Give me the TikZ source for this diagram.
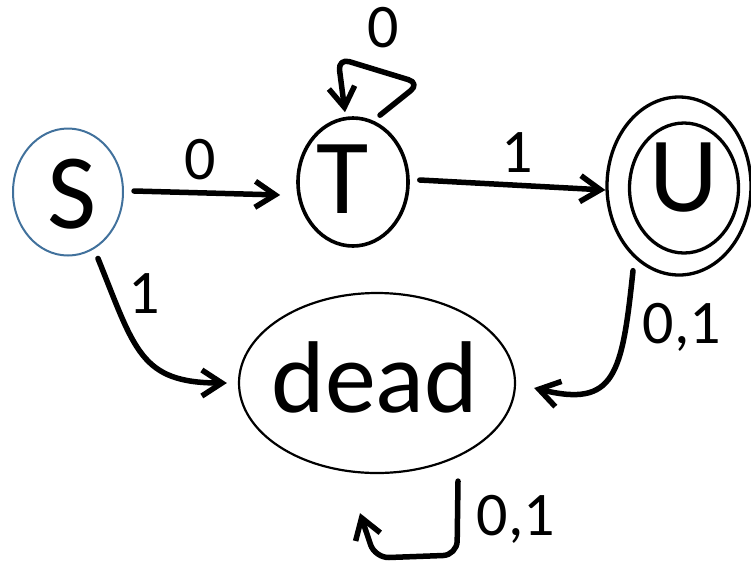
\documentclass[tikz,border=0pt]{standalone}
\usepackage{fontspec}
\setmainfont{Carlito}
\usetikzlibrary{shapes.geometric,arrows.meta}
\definecolor{sblue}{RGB}{65,113,156}
\begin{document}
\begin{tikzpicture}[x=1pt,y=-1pt,
  state/.style={ellipse,draw,inner sep=0pt},
  lbl/.style={font=\fontsize{62}{62}\selectfont,anchor=base,inner sep=0pt},
  big/.style={font=\fontsize{107}{107}\selectfont,anchor=base,inner sep=0pt},
  edge/.style={line width=5.5pt,line cap=round,line join=round,-{Straight Barb[length=20pt,width=26pt]}}]
\useasboundingbox (0,0) rectangle (751,566);
% states
\node[state,draw=sblue,line width=2pt,minimum width=110pt,minimum height=127pt] (S) at (68,192) {};
\node[state,line width=3.6pt,minimum width=110pt,minimum height=128pt] (T) at (353,182) {};
\node[state,line width=3.3pt,minimum width=144pt,minimum height=178pt] (Uo) at (679,186) {};
\node[state,line width=3.3pt,minimum width=109pt,minimum height=130pt] (U) at (684,188) {};
\node[state,line width=2.2pt,minimum width=276pt,minimum height=180pt] (D) at (377,383) {};
% state names
\node[big] (St) at (72,228) {S};
\node[big] (Tt) at (343,213) {T};
\node[big] (Ut) at (684,211) {U};
\node[font=\fontsize{102}{102}\selectfont,anchor=base,inner sep=0pt] (Dt) at (375,412) {dead};
% transitions
\draw[edge] ([shift={(10,-1)}]S.east) -- ([shift={(-16,13)}]T.west);
\draw[edge] ([shift={(10,-2)}]T.east) -- ([shift={(0,4)}]Uo.west);
\draw[edge,rounded corners=12pt] ([shift={(27,-1)}]T.north) -- ([shift={(67,-33)}]T.north) -- ([shift={(-15,-58)}]T.north) -- ([shift={(-8,-4)}]T.north);
\draw[edge] ([shift={(30,2)}]S.south) .. controls (135,350) and (140,383) .. ([shift={(-11,0)}]D.west);
\draw[edge] ([shift={(-46,-6)}]Uo.south) .. controls (622,375) and (615,408) .. ([shift={(18,5)}]D.east);
\draw[edge,rounded corners=14pt] ([shift={(81,7)}]D.south) -- (457,555) -- (375,558) -- ([shift={(-17,39)}]D.south);
% labels
\node[lbl] (l1) at (200,179) {0};
\node[lbl] (l2) at (383,47) {0};
\node[lbl] (l3) at (517,172) {1};
\node[lbl] (l4) at (144,313) {1};
\node[lbl] (l5) at (682,343) {0,1};
\node[lbl] (l6) at (516,535) {0,1};
\end{tikzpicture}
\end{document}
